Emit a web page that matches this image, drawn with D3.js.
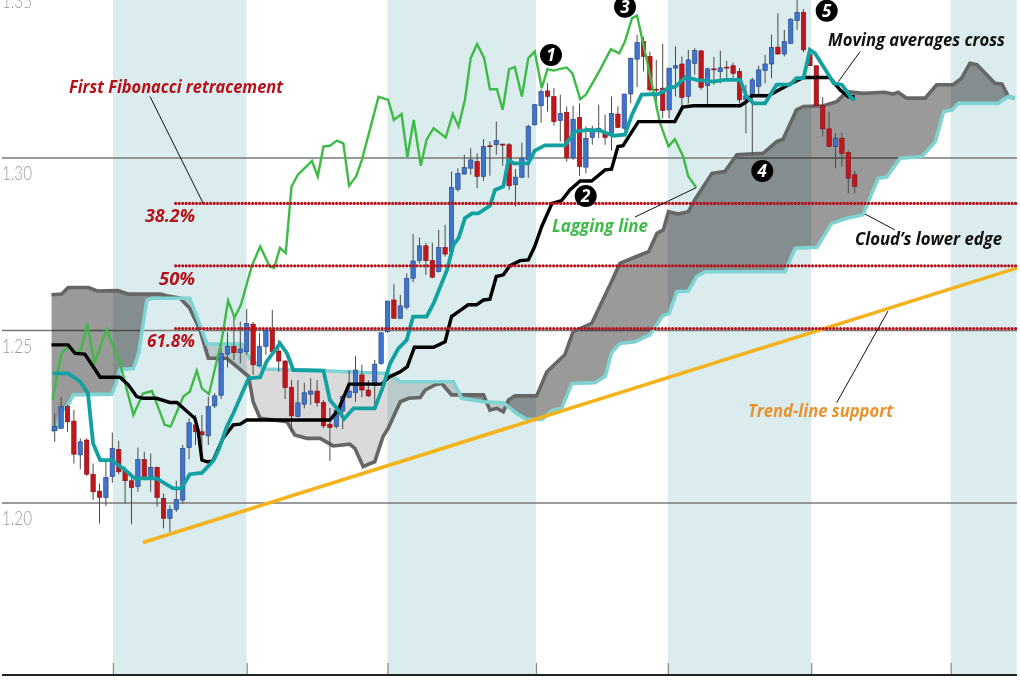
<!DOCTYPE html>
<html>
<head>
<meta charset="utf-8">
<script src="https://cdn.jsdelivr.net/npm/d3@7"></script>
<style>
	body { margin: 0; background: #fff; }
	svg { display: block; }
	text { font-family: "Open Sans", sans-serif; }
	.note { font-weight: 700; font-style: italic; }
</style>
</head>
<body>
<svg id="chart"></svg>
<script>
let width = 1020;
let height = 680;

// daily candles, day 0 is the first one
const candleOpen = [
	1.2208, 1.2215, 1.2278, 1.2236, 1.2138, 1.2181, 1.2082, 1.2033, 1.2014, 1.2075,
	1.2154, 1.2091, 1.2063, 1.2046, 1.2125, 1.2067, 1.2102, 1.2012, 1.1954, 1.1980,
	1.2007, 1.2159, 1.2225, 1.2205, 1.2193, 1.2280, 1.2311, 1.2430, 1.2452, 1.2434,
	1.2437, 1.2517, 1.2396, 1.2452, 1.2500, 1.2439, 1.2410, 1.2334, 1.2249, 1.2285,
	1.2314, 1.2323, 1.2290, 1.2227, 1.2220, 1.2265, 1.2305, 1.2318, 1.2370, 1.2326,
	1.2340, 1.2403, 1.2495, 1.2587, 1.2534, 1.2566, 1.2650, 1.2701, 1.2744, 1.2701,
	1.2669, 1.2739, 1.2727, 1.2908, 1.2952, 1.2969, 1.2988, 1.2945, 1.3034, 1.3037,
	1.3039, 1.3037, 1.2921, 1.2943, 1.2993, 1.3095, 1.3150, 1.3193, 1.3177, 1.3107,
	1.3131, 1.2999, 1.3116, 1.2972, 1.3058, 1.3080, 1.3070, 1.3070, 1.3126, 1.3085,
	1.3184, 1.3285, 1.3336, 1.3293, 1.3198, 1.3201, 1.3138, 1.3259, 1.3271, 1.3177,
	1.3273, 1.3309, 1.3208, 1.3257, 1.3249, 1.3262, 1.3266, 1.3249, 1.3167, 1.3182,
	1.3206, 1.3252, 1.3271, 1.3320, 1.3300, 1.3331, 1.3397, 1.3421, 1.3298, 1.3266,
	1.3150, 1.3083, 1.3032, 1.3056, 1.3014, 1.2950,
];
const candleClose = [
	1.2220, 1.2278, 1.2234, 1.2140, 1.2176, 1.2082, 1.2031, 1.2015, 1.2073, 1.2157,
	1.2089, 1.2063, 1.2043, 1.2125, 1.2073, 1.2102, 1.2014, 1.1954, 1.1980, 1.2009,
	1.2157, 1.2231, 1.2205, 1.2196, 1.2278, 1.2309, 1.2432, 1.2452, 1.2434, 1.2445,
	1.2519, 1.2399, 1.2452, 1.2500, 1.2437, 1.2410, 1.2333, 1.2251, 1.2289, 1.2318,
	1.2323, 1.2289, 1.2222, 1.2217, 1.2268, 1.2307, 1.2323, 1.2384, 1.2326, 1.2309,
	1.2401, 1.2492, 1.2584, 1.2534, 1.2570, 1.2650, 1.2700, 1.2744, 1.2701, 1.2653,
	1.2739, 1.2720, 1.2913, 1.2954, 1.2971, 1.2993, 1.2945, 1.3032, 1.3032, 1.3049,
	1.3036, 1.2918, 1.2943, 1.2998, 1.3090, 1.3153, 1.3191, 1.3177, 1.3104, 1.3128,
	1.2999, 1.3111, 1.2974, 1.3056, 1.3080, 1.3085, 1.3058, 1.3128, 1.3087, 1.3184,
	1.3288, 1.3333, 1.3293, 1.3196, 1.3195, 1.3136, 1.3259, 1.3266, 1.3174, 1.3283,
	1.3310, 1.3203, 1.3257, 1.3254, 1.3260, 1.3260, 1.3244, 1.3167, 1.3179, 1.3225,
	1.3254, 1.3271, 1.3319, 1.3300, 1.3336, 1.3401, 1.3420, 1.3312, 1.3266, 1.3150,
	1.3083, 1.3032, 1.3056, 1.3012, 1.2940, 1.2916,
];
const candleHigh = [
	1.2258, 1.2307, 1.2283, 1.2268, 1.2186, 1.2186, 1.2113, 1.2055, 1.2123, 1.2203,
	1.2179, 1.2104, 1.2070, 1.2159, 1.2147, 1.2142, 1.2104, 1.2026, 1.1992, 1.2063,
	1.2167, 1.2244, 1.2254, 1.2254, 1.2307, 1.2317, 1.2448, 1.2493, 1.2535, 1.2524,
	1.2560, 1.2523, 1.2491, 1.2503, 1.2558, 1.2471, 1.2413, 1.2355, 1.2355, 1.2347,
	1.2360, 1.2355, 1.2297, 1.2274, 1.2278, 1.2311, 1.2384, 1.2425, 1.2399, 1.2355,
	1.2413, 1.2492, 1.2584, 1.2633, 1.2602, 1.2664, 1.2778, 1.2768, 1.2752, 1.2753,
	1.2790, 1.2805, 1.2959, 1.2969, 1.3008, 1.3027, 1.3012, 1.3053, 1.3046, 1.3104,
	1.3039, 1.3042, 1.2966, 1.3043, 1.3095, 1.3155, 1.3198, 1.3215, 1.3201, 1.3182,
	1.3148, 1.3150, 1.3157, 1.3090, 1.3092, 1.3153, 1.3124, 1.3177, 1.3148, 1.3184,
	1.3289, 1.3356, 1.3349, 1.3307, 1.3283, 1.3329, 1.3260, 1.3322, 1.3293, 1.3312,
	1.3317, 1.3312, 1.3260, 1.3291, 1.3310, 1.3280, 1.3275, 1.3259, 1.3211, 1.3231,
	1.3266, 1.3298, 1.3356, 1.3418, 1.3370, 1.3404, 1.3457, 1.3430, 1.3312, 1.3266,
	1.3175, 1.3133, 1.3070, 1.3072, 1.3020, 1.2962,
];
const candleLow = [
	1.2176, 1.2215, 1.2205, 1.2113, 1.2097, 1.2077, 1.2007, 1.1939, 1.1990, 1.2057,
	1.2082, 1.1997, 1.1937, 1.2031, 1.2065, 1.2031, 1.1988, 1.1925, 1.1915, 1.1973,
	1.1997, 1.2125, 1.2167, 1.2152, 1.2167, 1.2274, 1.2300, 1.2391, 1.2413, 1.2403,
	1.2428, 1.2370, 1.2394, 1.2428, 1.2433, 1.2379, 1.2300, 1.2205, 1.2247, 1.2273,
	1.2283, 1.2278, 1.2215, 1.2121, 1.2215, 1.2213, 1.2302, 1.2292, 1.2305, 1.2305,
	1.2278, 1.2399, 1.2492, 1.2534, 1.2532, 1.2560, 1.2638, 1.2693, 1.2660, 1.2650,
	1.2667, 1.2713, 1.2722, 1.2901, 1.2950, 1.2950, 1.2911, 1.2933, 1.2947, 1.3008,
	1.2976, 1.2906, 1.2858, 1.2940, 1.2941, 1.3092, 1.3101, 1.3133, 1.3092, 1.3046,
	1.2988, 1.2993, 1.2947, 1.2954, 1.3037, 1.3056, 1.3037, 1.3020, 1.3085, 1.3080,
	1.3157, 1.3204, 1.3249, 1.3191, 1.3138, 1.3114, 1.3114, 1.3177, 1.3148, 1.3157,
	1.3240, 1.3196, 1.3153, 1.3211, 1.3215, 1.3231, 1.3230, 1.3157, 1.3070, 1.3008,
	1.3177, 1.3215, 1.3230, 1.3298, 1.3293, 1.3329, 1.3370, 1.3305, 1.3266, 1.3150,
	1.3061, 1.3032, 1.2969, 1.2974, 1.2896, 1.2896,
];

// [day, price]
const laggingLine = [
	[-0.3, 1.2297], [0.3, 1.2365], [1.1, 1.2434], [2.1, 1.245], [3.2, 1.2434], [4.1, 1.2442], [5.1, 1.2519], [6.2, 1.2403],
	[8.1, 1.2502], [10.2, 1.2403], [12.3, 1.2254], [13.8, 1.2316], [15.2, 1.2323], [17.2, 1.2225], [18.1, 1.222], [20.1, 1.2307],
	[21.1, 1.2321], [22.2, 1.2382], [23, 1.2331], [24.1, 1.2314], [26.1, 1.2471], [27.1, 1.2585], [28.1, 1.2536], [29.1, 1.2573],
	[30.8, 1.2686], [32.1, 1.2742], [33.6, 1.2684], [34.3, 1.268], [35.2, 1.2738], [36.1, 1.2723], [37, 1.2916], [38, 1.295],
	[40.2, 1.299], [41.1, 1.2945], [42, 1.3032], [43, 1.3034], [44.1, 1.3049], [45.1, 1.3041], [46, 1.2918], [47.1, 1.2945],
	[48, 1.2993], [50.6, 1.3176], [52.1, 1.3167], [53, 1.3109], [54.2, 1.3126], [55.1, 1.3001], [56.1, 1.3109], [57.2, 1.2976],
	[58.1, 1.3051], [59.2, 1.3085], [61.1, 1.3058], [62.2, 1.3126], [63.1, 1.309], [64.1, 1.3167], [65, 1.3288], [66, 1.3329],
	[67.1, 1.3288], [68, 1.3198], [69.1, 1.3198], [70, 1.3138], [71, 1.3256], [71.9, 1.3262], [73, 1.3177], [74, 1.3288],
	[75, 1.3307], [76.1, 1.3201], [77, 1.3256], [77.9, 1.3252], [80, 1.3261], [80.9, 1.3244], [82.1, 1.3169], [83, 1.3182],
	[85.2, 1.3254], [86.9, 1.3314], [88.2, 1.3302], [89.1, 1.3336], [90.2, 1.3404], [91, 1.3411], [92.5, 1.3283], [94.6, 1.3099],
	[95.9, 1.3032], [96.9, 1.3053], [98.2, 1.3003], [99, 1.2945], [100.2, 1.2914],
];
const slowAverage = [
	[-0.5, 1.2457], [2.1, 1.2457], [3.2, 1.2432], [4.7, 1.243], [6, 1.2394], [7.1, 1.2363], [10.2, 1.2363], [11.5, 1.2341],
	[12.8, 1.2307], [13.8, 1.2302], [15.9, 1.2302], [18, 1.229], [19.1, 1.229], [21.9, 1.2244], [22.4, 1.221], [23, 1.2123],
	[23.8, 1.2118], [24.7, 1.212], [26.3, 1.2186], [27.9, 1.2225], [29, 1.2227], [30, 1.2239], [43, 1.2239], [44.3, 1.2268],
	[46, 1.2343], [51.1, 1.2343], [52.2, 1.2363], [54, 1.2379], [55.1, 1.2394], [56.2, 1.245], [59.2, 1.245], [61, 1.2466],
	[62, 1.2539], [63.6, 1.256], [64.6, 1.2573], [65.9, 1.2573], [67, 1.2587], [68, 1.2589], [69, 1.2655], [70.1, 1.266],
	[71.1, 1.2686], [72.7, 1.2701], [74, 1.2703], [75, 1.2742], [76.1, 1.28], [77.7, 1.2867], [79.2, 1.2875], [80.5, 1.2906],
	[82.1, 1.2932], [83.9, 1.2932], [86, 1.2964], [87, 1.2966], [88, 1.3032], [88.8, 1.3034], [91.2, 1.3104], [96.9, 1.3104],
	[98.1, 1.3146], [99.8, 1.315], [107.1, 1.315], [108.1, 1.3162], [108.9, 1.3179], [111.5, 1.3179], [114.9, 1.3213], [117, 1.3232],
	[121.1, 1.3232], [122.7, 1.3196], [124, 1.3176], [125, 1.3176],
];
const fastAverage = [
	[-0.3, 1.2374], [2.1, 1.2374], [4, 1.235], [5.2, 1.2316], [6, 1.2171], [7.1, 1.2123], [8.9, 1.2123], [11, 1.2094],
	[12.5, 1.207], [15.9, 1.207], [18.5, 1.2041], [19.8, 1.2041], [21.1, 1.2082], [23, 1.2086], [24.8, 1.2121], [25.6, 1.2152],
	[26.9, 1.222], [27.9, 1.2258], [30.3, 1.236], [32.1, 1.2363], [33.1, 1.2408], [35.2, 1.2461], [36.3, 1.2432], [37.3, 1.2384],
	[42, 1.2382], [43, 1.2297], [44.1, 1.2273], [45.2, 1.2242], [46.7, 1.2273], [50, 1.2273], [51.3, 1.2336], [52.4, 1.2403],
	[53.7, 1.2447], [55, 1.2471], [56, 1.2539], [58.1, 1.2539], [59.2, 1.2577], [61.3, 1.2674], [62.3, 1.2747], [63.1, 1.2766],
	[64.1, 1.2824], [65.2, 1.2838], [66.2, 1.2838], [68, 1.286], [68.8, 1.2906], [70.1, 1.2916], [70.9, 1.2993], [71.7, 1.2983],
	[74, 1.2983], [75, 1.302], [76.6, 1.3035], [79.7, 1.3035], [81.3, 1.3075], [83.4, 1.308], [85.2, 1.3078], [87.3, 1.3063],
	[89.1, 1.3066], [90.2, 1.3124], [91.7, 1.3182], [94.3, 1.3184], [96.1, 1.3204], [96.9, 1.3204], [98.6, 1.3233], [100.3, 1.3225],
	[102.9, 1.322], [104.7, 1.3225], [107.1, 1.3225], [108.1, 1.3177], [109.2, 1.3157], [111, 1.3157], [112.8, 1.3211], [114.9, 1.3211],
	[115.9, 1.323], [117, 1.323], [118, 1.3312], [118.8, 1.3302], [120.6, 1.3249], [121.7, 1.3215], [123, 1.3211], [124.3, 1.3177],
	[125, 1.3165],
];
const cloudGrey = [
	[-0.5, 1.2602], [1.1, 1.2604], [2.1, 1.2623], [5.3, 1.2623], [6.6, 1.2613], [9.9, 1.2614], [11.5, 1.2604], [16.5, 1.2604],
	[17.5, 1.2599], [19.6, 1.2592], [21.1, 1.2563], [22.7, 1.25], [24, 1.2418], [26.9, 1.2418], [30.3, 1.2365], [31, 1.2292],
	[32.1, 1.2244], [36.3, 1.2234], [37.5, 1.2196], [39.4, 1.2186], [41.5, 1.2186], [43.5, 1.2164], [46.1, 1.2169], [46.9, 1.2157],
	[48.2, 1.2104], [49.3, 1.2113], [50, 1.2118], [51.3, 1.2191], [52.1, 1.2215], [54, 1.2292], [55.3, 1.2302], [57.1, 1.2304],
	[57.9, 1.2326], [59.4, 1.2341], [60.5, 1.2345], [62, 1.2312], [67, 1.2312], [68, 1.2268], [69.1, 1.2273], [70.1, 1.2263],
	[70.9, 1.2297], [71.9, 1.2309], [75.3, 1.2309], [76.9, 1.2379], [79.7, 1.2428], [81, 1.2495], [83.9, 1.2519], [87, 1.264],
	[88.3, 1.2693], [90.9, 1.2713], [92.8, 1.2727], [94.1, 1.278], [95.1, 1.279], [95.9, 1.2843], [97.4, 1.2836], [99, 1.2843],
	[100, 1.2877], [102.7, 1.2954], [104.7, 1.2959], [106.6, 1.3008], [110.7, 1.3012], [112.8, 1.3046], [113.8, 1.3053], [115.9, 1.3138],
	[117, 1.3148], [120.1, 1.315], [122.2, 1.3162], [123.8, 1.3191], [126.3, 1.3186], [129.7, 1.3189], [131, 1.3184], [131.8, 1.3189],
	[133.1, 1.3172], [136, 1.3172], [137.8, 1.3211], [140.4, 1.3211], [141.7, 1.323], [143, 1.3273], [144.1, 1.3269], [146.9, 1.3215],
	[148, 1.3213], [149, 1.3177], [150, 1.3172],
];
const cloudTeal = [
	[-0.5, 1.2207], [0.3, 1.2215], [1.1, 1.2263], [2.1, 1.2283], [2.9, 1.2312], [8.9, 1.2314], [9.4, 1.2336], [10.2, 1.2386],
	[12.3, 1.2388], [13.1, 1.2432], [14.4, 1.2587], [15.2, 1.2592], [21.1, 1.2592], [22.2, 1.2539], [23.8, 1.2459], [29.2, 1.2459],
	[30.5, 1.2418], [32.1, 1.2394], [33.1, 1.2387], [37.3, 1.2384], [42, 1.2382], [52.1, 1.2374], [54, 1.235], [62.3, 1.235],
	[63.6, 1.2302], [67, 1.2292], [70.1, 1.2289], [72.2, 1.2258], [73.8, 1.2241], [76.1, 1.2241], [77.9, 1.2268], [79.2, 1.2273],
	[80.8, 1.2345], [84.4, 1.2347], [86, 1.2365], [87, 1.2434], [88.3, 1.2461], [90.7, 1.2466], [93, 1.2486], [95, 1.2541],
	[96, 1.2548], [97.2, 1.2611], [99, 1.2613], [100.3, 1.2655], [101.6, 1.2669], [114.1, 1.2669], [115.7, 1.2737], [119.1, 1.274],
	[121.4, 1.2809], [123.8, 1.2824], [126.3, 1.2834], [127.9, 1.2906], [128.7, 1.294], [130, 1.2943], [132.1, 1.2998], [135.5, 1.3003],
	[137.6, 1.3046], [138.9, 1.3133], [140.2, 1.3138], [141.2, 1.3157], [147.4, 1.3157], [149, 1.3177], [150, 1.3172],
];
const trendLine = [[13.8, 1.1884], [150.4, 1.268]];

const fibLevels = [1.2867, 1.2686, 1.2504];
const fibStartDay = 18.9;
const fibLabels = ["38.2%", "50%", "61.8%"];
const priceTicks = [1.2, 1.25, 1.3, 1.35];
const monthTicks = [9.1, 30, 52, 75.2, 95.8, 118.2, 140];
const lastDay = 150.3;

function draw() {
	const x = d3.scaleLinear().domain([0, 125]).range([54.7, 854.7]);
	const y = d3.scaleLinear().domain([1.2, 1.3]).range([502.5, 157.5]);
	const baseY = 675;

	const svg = d3.select("#chart").attr("width", width).attr("height", height);

	const line = d3.line().x((d) => x(d[0])).y((d) => y(d[1]));

	// shaded months
	const bands = [];
	for (let i = 0; i < monthTicks.length; i += 2) {
		bands.push([monthTicks[i], i + 1 < monthTicks.length ? monthTicks[i + 1] : lastDay]);
	}
	svg.append("g")
		.selectAll("rect")
		.data(bands)
		.enter()
		.append("rect")
		.attr("x", (d) => x(d[0]))
		.attr("y", 0)
		.attr("width", (d) => x(d[1]) - x(d[0]))
		.attr("height", baseY)
		.attr("fill", "#daeced");

	// gridlines and price labels
	const yAxis = svg.append("g")
		.attr("transform", "translate(2,0)")
		.call(d3.axisRight(y).tickValues(priceTicks).tickSize(1015).tickFormat(d3.format(".2f")));
	yAxis.select(".domain").remove();
	yAxis.selectAll("line").attr("stroke", "#7a7a7a").attr("stroke-width", 1.4);
	yAxis.selectAll("text")
		.attr("x", 0)
		.attr("dy", 22)
		.attr("textLength", 30)
		.attr("lengthAdjust", "spacingAndGlyphs")
		.attr("fill", "#9b9b9b")
		.style("font-family", "Lato, sans-serif")
		.style("font-weight", 300)
		.style("font-size", "20px");

	// cloud: whole shape in light grey, the part under the grey edge darker
	const cloudShape = line(cloudGrey) + "L" + line(cloudTeal.slice().reverse()).slice(1) + "Z";
	const clipId = "underGrey";
	svg.append("clipPath")
		.attr("id", clipId)
		.append("path")
		.attr("d", line(cloudGrey) + `L${x(150)},${height}L${x(-0.5)},${height}Z`);
	const cloud = svg.append("g").style("mix-blend-mode", "multiply");
	cloud.append("path").attr("d", cloudShape).attr("fill", "#dadada");
	cloud.append("path").attr("d", cloudShape).attr("fill", "#9a9a9a").attr("clip-path", `url(#${clipId})`);
	svg.append("path").attr("d", line(cloudGrey)).attr("fill", "none").attr("stroke", "#666").attr("stroke-width", 3.6);
	svg.append("path").attr("d", line(cloudTeal)).attr("fill", "none").attr("stroke", "#7fd3d3").attr("stroke-width", 3.6);

	// candles
	const candles = candleOpen.map((open, i) => ({
		day: i,
		open: open,
		close: candleClose[i],
		high: candleHigh[i],
		low: candleLow[i],
	}));
	const candle = svg.append("g")
		.selectAll("g")
		.data(candles)
		.enter()
		.append("g");
	candle.append("line")
		.attr("x1", (d) => x(d.day))
		.attr("x2", (d) => x(d.day))
		.attr("y1", (d) => y(d.high))
		.attr("y2", (d) => y(d.low))
		.attr("stroke", "#4a4a4a")
		.attr("stroke-width", 1);
	candle.append("rect")
		.attr("x", (d) => x(d.day) - 2.2)
		.attr("width", 4.4)
		.attr("y", (d) => y(Math.max(d.open, d.close)))
		.attr("height", (d) => Math.max(1, Math.abs(y(d.open) - y(d.close))))
		.attr("fill", (d) => (d.close >= d.open ? "#3f74cc" : "#c3161c"))
		.attr("stroke", (d) => (d.close >= d.open ? "#24427f" : "#7e1216"))
		.attr("stroke-width", 0.6);

	// indicator lines
	svg.append("path").attr("d", line(laggingLine)).attr("fill", "none").attr("stroke", "#3dbb46").attr("stroke-width", 2.4);
	svg.append("path").attr("d", line(slowAverage)).attr("fill", "none").attr("stroke", "#000").attr("stroke-width", 3.4);
	svg.append("path").attr("d", line(fastAverage)).attr("fill", "none").attr("stroke", "#12a0a0").attr("stroke-width", 3.8);
	svg.append("path").attr("d", line(trendLine)).attr("fill", "none").attr("stroke", "#f4b31c").attr("stroke-width", 3.6);

	// fibonacci levels
	svg.append("g")
		.selectAll("line")
		.data(fibLevels)
		.enter()
		.append("line")
		.attr("x1", x(fibStartDay))
		.attr("x2", 1018)
		.attr("y1", (d) => y(d))
		.attr("y2", (d) => y(d))
		.attr("stroke", "#b5121b")
		.attr("stroke-width", 3.2)
		.attr("stroke-linecap", "round")
		.attr("stroke-dasharray", "0,3.5");

	// bottom axis
	const xAxis = svg.append("g")
		.attr("transform", `translate(0,${baseY})`)
		.call(d3.axisBottom(x).tickValues(monthTicks).tickSize(-12).tickFormat(""));
	xAxis.select(".domain").remove();
	xAxis.selectAll("line").attr("stroke", "#888").attr("stroke-width", 1.2);
	svg.append("line")
		.attr("x1", 2).attr("x2", 1017)
		.attr("y1", baseY).attr("y2", baseY)
		.attr("stroke", "#222").attr("stroke-width", 1.8);

	// leader lines
	const leaders = [
		[150, 96.5, 203, 203],
		[635, 217, 696.5, 187.5],
		[865, 214, 895, 230],
		[860, 51.7, 838.3, 81.7],
		[836.7, 402.7, 888, 311],
	];
	svg.append("g")
		.selectAll("line")
		.data(leaders)
		.enter()
		.append("line")
		.attr("x1", (d) => d[0])
		.attr("y1", (d) => d[1])
		.attr("x2", (d) => d[2])
		.attr("y2", (d) => d[3])
		.attr("stroke", "#111")
		.attr("stroke-width", 1);

	// labels
	const notes = [
		{ text: "First Fibonacci retracement", x: 69, y: 93, w: 214, color: "#b5121b" },
		{ text: fibLabels[0], x: 145, y: 222, w: 50, color: "#b5121b" },
		{ text: fibLabels[1], x: 159, y: 285, w: 36, color: "#b5121b" },
		{ text: fibLabels[2], x: 147, y: 347, w: 48, color: "#b5121b" },
		{ text: "Lagging line", x: 552, y: 232, w: 96, color: "#3dbb46" },
		{ text: "Cloud\u2019s lower edge", x: 855, y: 245, w: 147, color: "#111" },
		{ text: "Moving averages cross", x: 828, y: 46, w: 177, color: "#111" },
		{ text: "Trend-line support", x: 748, y: 417, w: 145, color: "#e8922b" },
	];
	svg.append("g")
		.selectAll("text")
		.data(notes)
		.enter()
		.append("text")
		.attr("class", "note")
		.attr("x", (d) => d.x)
		.attr("y", (d) => d.y)
		.attr("textLength", (d) => d.w)
		.attr("lengthAdjust", "spacingAndGlyphs")
		.attr("fill", (d) => d.color)
		.style("font-size", "17px")
		.text((d) => d.text);

	// numbered markers
	const markers = [
		{ n: "1", x: 551, y: 55 },
		{ n: "2", x: 585.7, y: 196 },
		{ n: "3", x: 625, y: 6.7 },
		{ n: "4", x: 762.3, y: 171 },
		{ n: "5", x: 826.7, y: 10.7 },
	];
	const marker = svg.append("g")
		.selectAll("g")
		.data(markers)
		.enter()
		.append("g")
		.attr("transform", (d) => `translate(${d.x},${d.y})`);
	marker.append("circle").attr("r", 11).attr("fill", "#000");
	marker.append("text")
		.attr("class", "note")
		.attr("text-anchor", "middle")
		.attr("y", 6)
		.attr("fill", "#fff")
		.style("font-size", "17px")
		.text((d) => d.n);
}

draw();
</script>
</body>
</html>
